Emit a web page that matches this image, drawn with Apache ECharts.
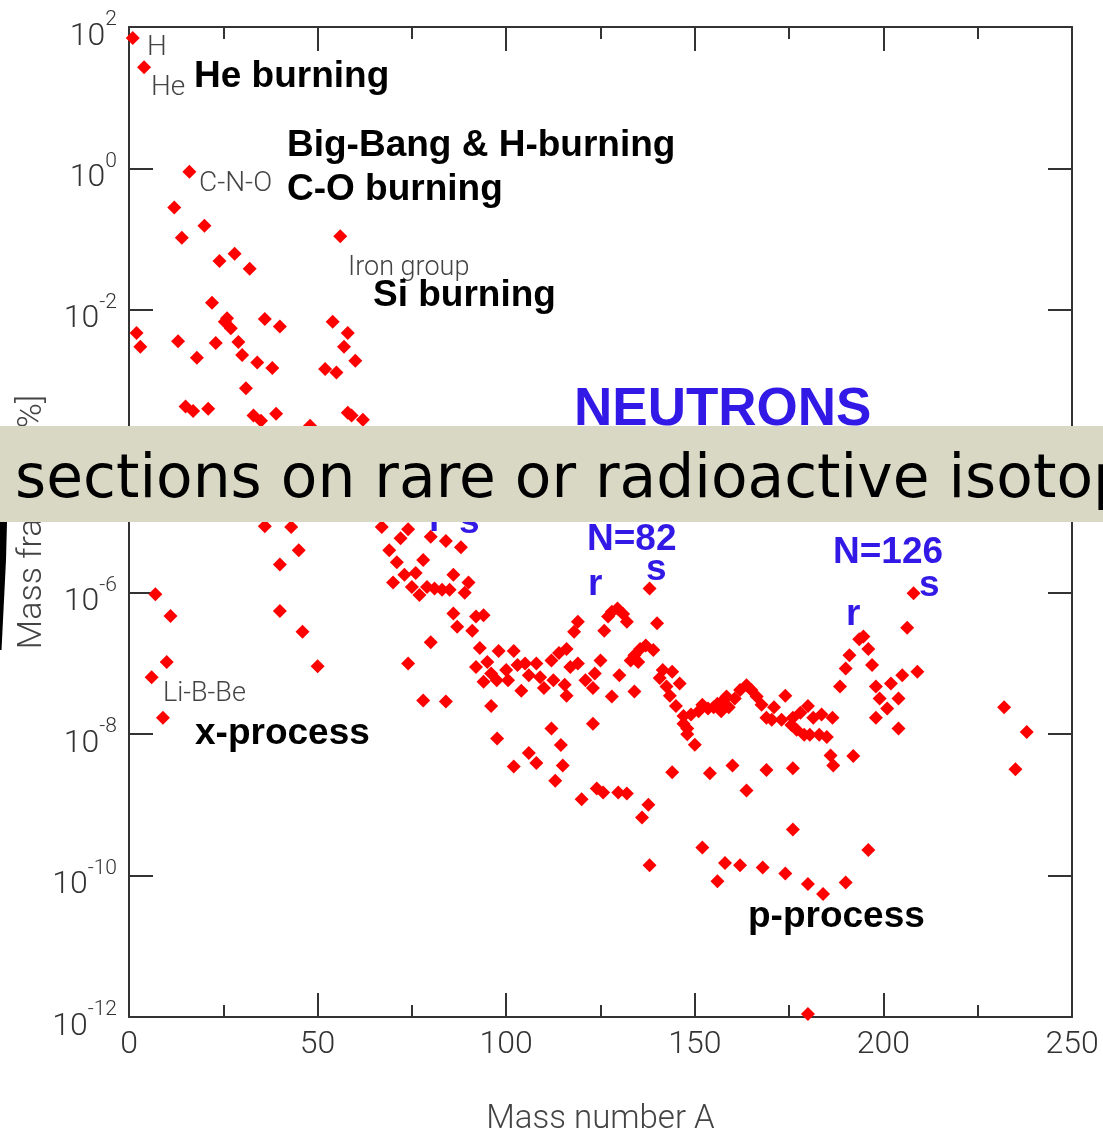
<!DOCTYPE html>
<html>
<head>
<meta charset="utf-8">
<script src="https://cdn.jsdelivr.net/npm/echarts@6/dist/echarts.min.js"></script>
<style>
html,body{margin:0;padding:0;background:#fff;}
#chart{width:1103px;height:1134px;}
</style>
</head>
<body>
<div id="chart"></div>
<script>
// Mass number A of each plotted isotope
var massNumber = [
  1,2,3,4,6,7,9,10,11,12,13,14,15,16,17,18,20,21,22,23,24,25.4,26,27,28,29,30,31,32,33,34,35,36,36,38,39,40,40,40,43,45,46,48,50,52,54,55,56,57,58,58,59,60,62,
  67,69,70,71,72,73,74,74,75,76,77,78,78,79,80,80,81,83,84,84,85,86,86,87,88,89,90,91,92,92,93,94,94,95,96,96,97.5,97.6,98,100,100.5,102,102,103,104,105,106,106,108,108,109,110,
  112,112.5,112,113,114,114.5,115,115.5,116,116,117,118,119,119,120,121,123,123.5,123,124,125,125.7,126,127,128,128,129.5,129.7,130,131,132,132,133,134,134,135,135.5,136,137,137.7,138,138,139,140,
  140.7,141.5,142.5,143.4,144,144,145,146,147,147,148,148,149,150,151,152,152,153.5,154,155,156,156,157,157.5,158,158.4,159,160,160.6,162,162,163.7,163.7,165,166.4,167.7,168,169,169,
  170.4,171,173,174,174,175.6,176,176,176,177,178,179,180,180,180,180.5,181.4,183,183.6,184,185,186,186.5,186.7,188.5,190,190,191,192,193.6,194.7,196,196,197,198,198,199,201,202,204,204,205,206.3,208,209,
  232,235,238
];
// Mass fraction [%] of each isotope (same order)
var massFraction = [
  70,4.7e-3,3.0e-3,27,6.4e-8,9.5e-7,1.7e-8,1.05e-7,4.7e-7,0.28,3.6e-3,0.105,4.3e-4,0.9,3.7e-4,2.1e-3,0.155,4.0e-4,0.0126,3.4e-3,0.049,6.8e-3,7.6e-3,5.5e-3,0.062,3.5e-3,2.3e-3,7.8e-4,0.038,3.2e-4,1.8e-3,2.7e-4,7.4e-3,8.7e-6,1.5e-3,3.4e-4,5.8e-3,2.5e-6,5.5e-7,8.5e-6,4.0e-6,2.8e-7,2.3e-4,9.1e-8,1.46e-3,6.8e-3,1.3e-3,0.11,3.0e-3,4.7e-3,3.5e-4,3.2e-4,1.9e-3,2.8e-4,
  8.5e-6,4.0e-6,1.4e-6,2.7e-6,5.9e-6,1.8e-6,7.9e-6,1.0e-7,1.2e-6,1.9e-6,9.3e-7,2.9e-6,3.0e-8,1.2e-6,6.2e-6,2.0e-7,1.15e-6,1.1e-6,5.4e-6,2.9e-8,1.1e-6,1.8e-6,5.1e-7,3.3e-7,4.4e-6,1.0e-6,1.4e-6,2.9e-7,4.6e-7,8.9e-8,1.65e-7,4.8e-7,5.5e-8,1.05e-7,7.2e-8,2.5e-8,5.8e-8,8.7e-9,1.5e-7,8.1e-8,5.8e-8,1.5e-7,3.5e-9,9.5e-8,4.1e-8,1.0e-7,6.8e-8,5.4e-9,1.0e-7,3.9e-9,6.4e-8,4.5e-8,
  1.1e-7,5.8e-8,1.2e-8,2.2e-9,1.4e-7,7.0e-9,3.6e-9,5.0e-8,1.6e-7,3.5e-8,8.9e-8,2.8e-7,3.9e-7,1.0e-7,1.2e-9,5.8e-8,4.5e-8,7.2e-8,1.4e-8,1.7e-9,1.1e-7,1.5e-9,2.9e-7,4.6e-7,5.4e-7,3.4e-8,6.0e-7,1.5e-9,6.8e-8,5.0e-7,3.9e-7,1.45e-9,1.1e-7,1.3e-7,4.0e-8,1.05e-7,1.6e-7,6.6e-10,1.8e-7,1.0e-9,1.15e-6,1.4e-10,1.55e-7,3.7e-7,
  6.2e-8,8.1e-8,4.7e-8,3.5e-8,7.6e-8,2.9e-9,2.5e-8,5.2e-8,1.8e-8,1.4e-8,1.2e-8,1.0e-8,1.9e-8,7.1e-9,2.1e-8,2.6e-8,2.5e-10,2.3e-8,2.8e-9,2.4e-8,2.7e-8,8.3e-11,2.1e-8,3.0e-8,1.5e-10,3.4e-8,2.4e-8,3.6e-9,3.2e-8,4.2e-8,1.4e-10,4.9e-8,1.6e-9,4.2e-8,3.4e-8,2.6e-8,1.3e-10,1.7e-8,3.1e-9,
  1.6e-8,2.4e-8,1.6e-8,3.5e-8,1.07e-10,1.35e-8,1.7e-8,3.3e-9,4.5e-10,1.15e-8,2.0e-8,9.8e-9,2.5e-8,7.6e-11,1.1e-12,9.8e-9,1.7e-8,9.8e-9,1.9e-8,5.5e-11,9.1e-9,5.0e-9,1.7e-8,3.6e-9,4.7e-8,8.5e-8,8.0e-11,1.3e-7,4.9e-9,2.2e-7,2.4e-7,1.6e-7,2.3e-10,9.5e-8,4.7e-8,1.7e-8,3.2e-8,2.3e-8,5.2e-8,3.2e-8,1.2e-8,6.8e-8,3.2e-7,9.8e-7,7.6e-8,
  2.4e-8,3.2e-9,1.07e-8
];
// Tick labels
var xTickLabels = ['0','50','100','150','200','250'];
var yTickExponents = [2,0,-2,-4,-6,-8,-10,-12];
var xAxisTitle = 'Mass number A';
var yAxisTitle = 'Mass fraction [%]';

var points = massNumber.map(function(a, i){ return [a, massFraction[i]]; });

var chart = echarts.init(document.getElementById('chart'), null, {renderer:'canvas'});
var axisColor = '#333';
var tickFont = 'Roboto';
var boldFont = '"Liberation Sans", Arial, sans-serif';
var blue = '#3219e6';

function bold(text, x, midY, size, color){
  return {type:'text', z:50, style:{text:text, x:x, y:midY, font:'bold '+size+'px '+boldFont, fill:color||'#000', textAlign:'left', textVerticalAlign:'middle'}};
}
function grey(text, x, midY, size){
  return {type:'text', z:50, style:{text:text, x:x, y:midY, font:'300 '+size+'px Roboto', fill:'#444', textAlign:'left', textVerticalAlign:'middle'}};
}

var bannerText = 'sections on rare or radioactive isotopes';
var bannerFont = '60px "DejaVu Sans"';
var mc = document.createElement('canvas').getContext('2d');
mc.font = bannerFont;
var bannerScale = 1078 / mc.measureText('sections on rare or radioactive isoto').width;

var option = {
  animation:false,
  backgroundColor:'#fff',
  grid:{left:129, right:31, top:27, bottom:117, containLabel:false, outerBoundsMode:'none'},
  xAxis:[{
    type:'value', min:0, max:250, interval:50, position:'bottom',
    axisLine:{show:true, onZero:false, lineStyle:{color:axisColor, width:2}},
    axisTick:{show:true, inside:true, length:24, lineStyle:{color:axisColor, width:2}},
    minorTick:{show:true, splitNumber:2, length:12, lineStyle:{color:axisColor, width:2}},
    splitLine:{show:false},
    axisLabel:{margin:12, color:axisColor, fontSize:32, fontFamily:tickFont, fontWeight:300,
      formatter:function(v){ var i = Math.round(v/50); return xTickLabels[i]; }},
    name:xAxisTitle, nameLocation:'middle', nameGap:86, nameMoveOverlap:false,
    nameTextStyle:{fontSize:33, color:'#444', fontFamily:tickFont, fontWeight:300}
  },{
    type:'value', min:0, max:250, interval:50, position:'top',
    axisLine:{show:true, onZero:false, lineStyle:{color:axisColor, width:2}},
    axisTick:{show:true, inside:true, length:24, lineStyle:{color:axisColor, width:2}},
    minorTick:{show:true, splitNumber:2, length:12, lineStyle:{color:axisColor, width:2}},
    splitLine:{show:false}, axisLabel:{show:false}
  }],
  yAxis:[{
    type:'log', logBase:10, min:1e-12, max:100, interval:2, position:'left',
    axisLine:{show:true, onZero:false, lineStyle:{color:axisColor, width:2}},
    axisTick:{show:true, inside:true, length:24, lineStyle:{color:axisColor, width:2}},
    minorTick:{show:false},
    splitLine:{show:false},
    axisLabel:{margin:12, color:axisColor, fontFamily:tickFont, fontWeight:300, padding:[8,0,0,0],
      formatter:function(v){
        var e = Math.round(Math.log10(v));
        if (yTickExponents.indexOf(e) < 0) return '';
        return '{b|10}{e|' + e + '}';
      },
      rich:{
        b:{fontSize:32, color:axisColor, fontFamily:tickFont, fontWeight:300, padding:[11,0,0,0]},
        e:{fontSize:21, color:axisColor, fontFamily:tickFont, fontWeight:300, verticalAlign:'top'}
      }},
    name:yAxisTitle, nameLocation:'middle', nameGap:80, nameRotate:90, nameMoveOverlap:false,
    nameTextStyle:{fontSize:34, color:'#444', fontFamily:tickFont, fontWeight:300}
  },{
    type:'log', logBase:10, min:1e-12, max:100, interval:2, position:'right',
    axisLine:{show:true, onZero:false, lineStyle:{color:axisColor, width:2}},
    axisTick:{show:true, inside:true, length:24, lineStyle:{color:axisColor, width:2}},
    splitLine:{show:false}, axisLabel:{show:false}
  }],
  series:[{
    type:'scatter', xAxisIndex:0, yAxisIndex:0,
    symbol:'diamond', symbolSize:14,
    itemStyle:{color:'#ff0000', opacity:1},
    data:points, z:3
  }],
  graphic:[
    grey('H', 147, 48, 28),
    grey('He', 151, 88, 28),
    grey('C-N-O', 199, 184, 28),
    grey('Iron group', 348, 268, 27),
    grey('Li-B-Be', 163, 694, 27),
    bold('He burning', 194, 77, 37),
    bold('Big-Bang & H-burning', 287, 146, 37),
    bold('C-O burning', 287, 190, 37),
    bold('Si burning', 373, 296, 37),
    bold('x-process', 195, 734, 37),
    bold('p-process', 748, 917, 37),
    bold('NEUTRONS', 574, 410, 53, blue),
    bold('r', 429, 521, 37, blue),
    bold('s', 459, 523, 37, blue),
    bold('N=82', 587, 540, 37, blue),
    bold('r', 588, 585, 37, blue),
    bold('s', 646, 570, 37, blue),
    bold('N=126', 833, 553, 37, blue),
    bold('s', 919, 586, 37, blue),
    bold('r', 846, 615, 37, blue),
    {type:'rect', z:100, shape:{x:0, y:426, width:1103, height:96}, style:{fill:'#d9d8c5'}},
    {type:'text', z:101, x:15, y:511, scaleX:bannerScale, scaleY:1,
      style:{text:bannerText, x:0, y:0, font:bannerFont, fill:'#000', textAlign:'left', textVerticalAlign:'bottom'}},
    {type:'polygon', z:100, shape:{points:[[0,522],[7,522],[6,560],[4,600],[1.5,650],[0,650]]}, style:{fill:'#000'}}
  ]
};
chart.setOption(option);
</script>
</body>
</html>
